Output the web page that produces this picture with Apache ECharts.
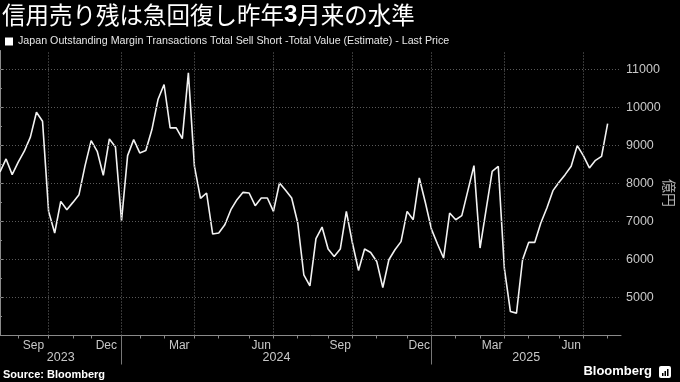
<!DOCTYPE html>
<html><head><meta charset="utf-8">
<script src="https://cdn.jsdelivr.net/npm/echarts@6/dist/echarts.min.js"></script>
<style>html,body{margin:0;padding:0;background:#000;}#c{width:680px;height:382px;}</style>
</head><body><div id="c"></div>
<script>
// ---------- data ----------
const titleText = '信用売り残は急回復し昨年{b|3}月来の水準';
const seriesName = 'Japan Outstanding Margin Transactions Total Sell Short -Total Value (Estimate) - Last Price';
const unitName = '億円';
const startDate = '2023-08-11';
const endDate = '2025-08-01';
const skippedDates = ['2023-11-03', '2024-01-05', '2025-01-03'];
const values = [
  8305, 8647, 8233, 8560, 8850, 9220, 9875, 9638, 7266, 6697,
  7530, 7311, 7503, 7706, 8470, 9129, 8847, 8215, 9173, 8963,
  7021, 8734, 9155, 8805, 8866, 9419, 10209, 10605, 9463, 9463,
  9182, 10912, 8452, 7610, 7750, 6670, 6697, 6916, 7311, 7575,
  7767, 7750, 7416, 7619, 7619, 7266, 8014, 7820, 7619, 6960,
  5598, 5308, 6547, 6855, 6275, 6080, 6275, 7266, 6433, 5712,
  6275, 6186, 5949, 5264, 5993, 6256, 6470, 7266, 7047, 8146,
  7500, 6800, 6407, 6038, 7222, 7047, 7153, 7812, 8470, 6301,
  7311, 8321, 8452, 5775, 4631, 4589, 5993, 6450, 6450, 6960,
  7355, 7812, 8031, 8233, 8452, 8997, 8734, 8410, 8610, 8716,
  9577
];
const monthNames = ['Jan','Feb','Mar','Apr','May','Jun','Jul','Aug','Sep','Oct','Nov','Dec'];
const labelledMonths = ['Mar','Jun','Sep','Dec'];
const gridMonths = ['Jan','Apr','Jul','Oct'];
const yMin = 4000, yMax = 11500;
const yTickValues = [4000, 5000, 6000, 7000, 8000, 9000, 10000, 11000];
const yLabelValues = [5000, 6000, 7000, 8000, 9000, 10000, 11000];
const yMinorValues = [4500, 5500, 6500, 7500, 8500, 9500, 10500];

// ---------- derived ----------
function buildDates() {
  const out = [];
  let t = Date.parse(startDate + 'T00:00:00Z');
  const end = Date.parse(endDate + 'T00:00:00Z');
  while (t <= end) {
    const s = new Date(t).toISOString().slice(0, 10);
    if (skippedDates.indexOf(s) < 0) out.push(s);
    t += 7 * 86400000;
  }
  return out;
}
const dates = buildDates();
const monthStarts = [];
for (let i = 1; i < dates.length; i++) {
  if (dates[i].slice(0, 7) !== dates[i - 1].slice(0, 7)) {
    monthStarts.push({ idx: i, year: +dates[i].slice(0, 4), month: monthNames[+dates[i].slice(5, 7) - 1] });
  }
}
const xPadRight = 2.2;
const xMax = dates.length - 1 + xPadRight;
const monthTickIdx = monthStarts.map(m => m.idx);
const quarterIdx = monthStarts.filter(m => gridMonths.indexOf(m.month) >= 0).map(m => m.idx);
const monthLabelMap = {};
const monthLabelPos = [];
monthStarts.forEach((m, k) => {
  if (labelledMonths.indexOf(m.month) >= 0 && monthStarts[k + 1]) {
    const p = (m.idx + monthStarts[k + 1].idx) / 2;
    monthLabelPos.push(p); monthLabelMap[p] = m.month;
  }
});
const yearStarts = monthStarts.filter(m => m.month === 'Jan');
const yearStartIdx = yearStarts.map(m => m.idx);
const yearBounds = [0].concat(yearStartIdx, [xMax]);
const firstYear = +dates[0].slice(0, 4);
const yearLabelMap = {};
const yearLabelPos = [];
for (let k = 0; k < yearBounds.length - 1; k++) {
  const p = (yearBounds[k] + yearBounds[k + 1]) / 2;
  yearLabelPos.push(p); yearLabelMap[p] = String(firstYear + k);
}
const seriesData = values.map((v, i) => [i, v]);

// ---------- chart ----------
const NARROW = "'Liberation Sans Narrow', 'Arial Narrow', 'Liberation Sans', sans-serif";
const AXIS = '#8a8a8a', LABEL = '#c8c8c8';
const GRID_H = { color: '#5a5a5a', width: 1, type: [1, 2] };
const GRID_V = { color: '#6e6e6e', width: 1, type: [1, 2] };
const gridLineData = yTickValues.filter(v => v > yMin).map(v => ({ yAxis: v, lineStyle: GRID_H }))
  .concat(quarterIdx.map(i => ({ xAxis: i, lineStyle: GRID_V })));
const chart = echarts.init(document.getElementById('c'), null, { renderer: 'canvas' });
const xBase = { type: 'value', min: 0, max: xMax, position: 'bottom', splitLine: { show: false } };
chart.setOption({
  backgroundColor: '#000',
  animation: false,
  title: {
    text: titleText, left: 2, top: 3, padding: 0,
    textStyle: {
      color: '#fff', fontSize: 23.5, fontWeight: 'normal', fontFamily: "'Noto Sans CJK JP', sans-serif",
      rich: { b: { color: '#fff', fontSize: 24, fontWeight: 'bold', fontFamily: "'Liberation Sans', 'Noto Sans', sans-serif" } }
    }
  },
  legend: {
    show: true, left: 5, top: 36, padding: 0, icon: 'rect', itemWidth: 8, itemHeight: 8,
    textStyle: { color: '#e6e6e6', fontSize: 10.7, fontFamily: NARROW },
    data: [{ name: seriesName, itemStyle: { color: '#fff' } }]
  },
  grid: { left: 0, right: 59, top: 50.5, bottom: 46.5, containLabel: false, outerBoundsMode: 'none' },
  xAxis: [
    Object.assign({}, xBase, {
      axisLine: { show: true, lineStyle: { color: AXIS, width: 1 } },
      axisTick: { show: true, customValues: monthTickIdx, length: 3, lineStyle: { color: AXIS } },
      axisLabel: { show: true, customValues: monthLabelPos, formatter: v => monthLabelMap[v] || '', color: LABEL, fontSize: 12, fontFamily: NARROW, margin: 4 }
    }),
    Object.assign({}, xBase, {
      axisLine: { show: false },
      axisTick: { show: true, customValues: yearStartIdx, length: 29, lineStyle: { color: '#777' } },
      axisLabel: { show: true, customValues: yearLabelPos, formatter: v => yearLabelMap[v] || '', color: LABEL, fontSize: 12.5, fontFamily: NARROW, margin: 16 }
    })
  ],
  yAxis: [
    {
      type: 'value', position: 'right', min: yMin, max: yMax,
      axisLine: { show: true, lineStyle: { color: AXIS, width: 1 } },
      axisTick: { show: true, customValues: yTickValues, length: 4, lineStyle: { color: AXIS } },
      axisLabel: { show: true, customValues: yLabelValues, formatter: v => String(v), color: LABEL, fontSize: 12.5, fontFamily: NARROW, margin: 5 },
      splitLine: { show: false },
      name: unitName, nameLocation: 'middle', nameRotate: -90, nameGap: 41, nameMoveOverlap: false,
      nameTextStyle: { color: '#b4b4b4', fontSize: 14, fontFamily: "'Noto Sans CJK JP', sans-serif" }
    },
    {
      type: 'value', position: 'right', min: yMin, max: yMax,
      axisLine: { show: false },
      axisTick: { show: true, customValues: yMinorValues, length: 2, lineStyle: { color: AXIS } },
      axisLabel: { show: false },
      splitLine: { show: false }
    }
  ],
  series: [
    {
      name: seriesName, type: 'line', xAxisIndex: 0, yAxisIndex: 0,
      data: seriesData, showSymbol: false, symbol: 'none',
      lineStyle: { color: '#f2f2f2', width: 1.6 }, itemStyle: { color: '#fff' },
      markLine: {
        silent: true, symbol: ['none', 'none'], label: { show: false }, animation: false,
        lineStyle: GRID_H,
        emphasis: { disabled: true },
        data: gridLineData
      }
    }
  ],
  graphic: [
    { type: 'text', left: 3, top: 369, style: { text: 'Source: Bloomberg', fill: '#fff', font: "bold 11px 'Liberation Sans', sans-serif" } },
    { type: 'text', right: 28, top: 365, style: { text: 'Bloomberg', fill: '#fff', font: "bold 13px " + NARROW } },
    { type: 'rect', left: 659, top: 366, shape: { width: 12, height: 12, r: 2 }, style: { fill: '#fff' } },
    { type: 'rect', left: 662, top: 373, shape: { width: 1.5, height: 3 }, style: { fill: '#000' } },
    { type: 'rect', left: 664.5, top: 371, shape: { width: 1.5, height: 5 }, style: { fill: '#000' } },
    { type: 'rect', left: 667, top: 369, shape: { width: 1.5, height: 7 }, style: { fill: '#000' } }
  ]
});
</script></body></html>
